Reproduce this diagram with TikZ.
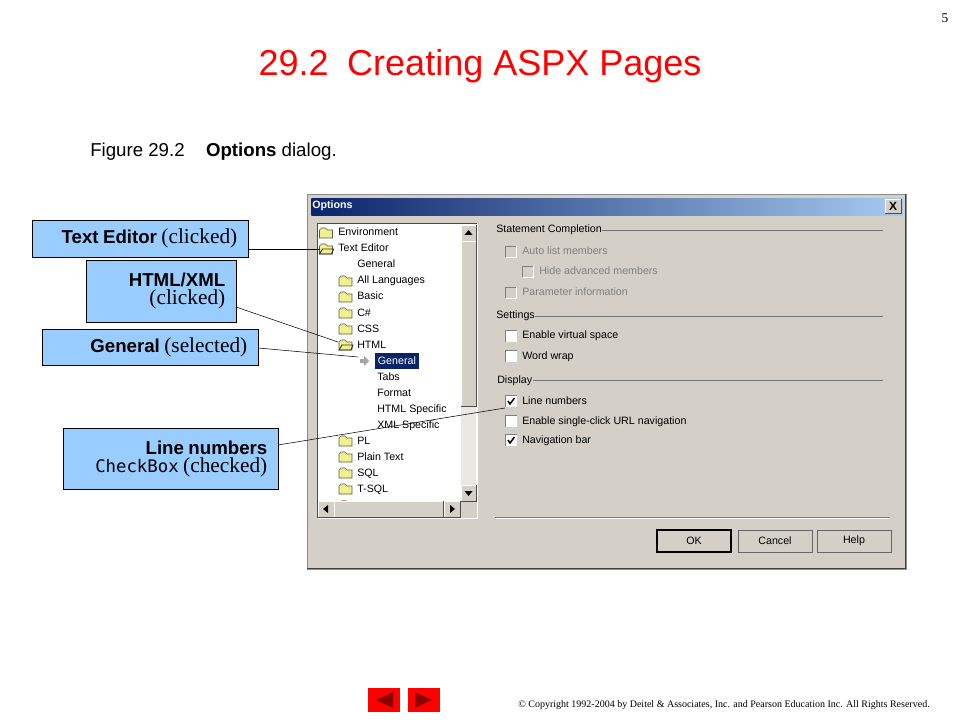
\documentclass[tikz,border=0pt]{standalone}
\usepackage{fontspec}
\setmainfont{Liberation Sans}
\newfontfamily\timesfont{Liberation Serif}
\newfontfamily\codefont{DejaVu Sans Mono}
\definecolor{slidered}{HTML}{FF0000}
\definecolor{darkred}{HTML}{8C0000}
\definecolor{calloutblue}{HTML}{99CCFF}
\definecolor{dialoggray}{HTML}{D4D0C8}
\definecolor{titlenavy}{HTML}{0A246A}
\definecolor{titlesky}{HTML}{A6CAF0}
\definecolor{hatchgray}{HTML}{EAE8E3}
\definecolor{shadegray}{HTML}{808080}
\definecolor{folderyellow}{HTML}{F2F08C}
\newcommand{\fsize}[1]{\fontsize{#1}{18}\selectfont}
\newcommand{\raisedrect}[2]{%
  \fill [dialoggray] (#1) rectangle (#2);
  \draw [white] (#1 |- #2) -- (#1) -- (#2 |- #1);
  \draw [black!70] (#1 |- #2) -- (#2) -- (#2 |- #1);
}
\tikzset{
  callout/.style = {draw, fill = calloutblue, anchor = north west, align = right,
    inner xsep = 8.25pt, inner ysep = 0pt},
  treeitem/.style = {anchor = west, inner sep = 0pt, text height = 6pt, text depth = 1.5pt,
    font = \fsize{8}},
  panelitem/.style = {treeitem},
  offitem/.style = {treeitem, text = shadegray},
  winbutton/.style = {draw = black!60, fill = dialoggray, minimum width = 55.5pt,
    minimum height = 16.5pt, inner sep = 0pt, font = \fsize{8}},
  navbutton/.style = {fill = slidered},
  groupline/.style = {black!55},
  folder/.pic = {
    \path [draw = black!65, fill = folderyellow, line width = .4pt]
      (-7,4) -- (-7,-3) -- (-5,-5) -- (-1,-5) -- (1,-3) -- (6,-3) -- (6,5) -- (-7,5) -- cycle;
  },
  openfolder/.pic = {
    \path [draw = black!65, fill = folderyellow, line width = .4pt]
      (-7,4) -- (-7,-3) -- (-5,-5) -- (-1,-5) -- (1,-3) -- (6,-3) -- (6,5) -- (-7,5) -- cycle;
    \draw [black!80, line width = .7pt] (-7,5) -- (-4,0) -- (7,0) -- (5,5) -- cycle;
  },
  onbox/.pic = {
    \path [fill = white] (-5.5,-5.5) rectangle (5.5,5.5);
    \draw [shadegray] (-5.5,5.5) -- (-5.5,-5.5) -- (5.5,-5.5);
  },
  offbox/.pic = {
    \draw [shadegray] (-5.5,5.5) -- (-5.5,-5.5) -- (5.5,-5.5);
    \draw [white] (-5.5,5.5) -- (5.5,5.5) -- (5.5,-5.5);
  },
  tickmark/.pic = {
    \draw [black, line width = 1.1pt] (-3,0) -- (-1,3) -- (3.5,-3);
  }
}
\begin{document}
\begin{tikzpicture}[x = .75pt, y = -.75pt]
    \useasboundingbox [fill = white] (0,0) rectangle (960,720);

    % slide text
    \node (pageno) at (945,18) {\timesfont\fsize{10}5};
    \node (slidetitle) at (480,66) {\fsize{27}\textcolor{slidered}{29.2\hspace{14pt}Creating ASPX Pages}};
    \node [anchor = west, inner sep = 0pt] (caption) at (90,152)
        {\fsize{14}Figure 29.2\hspace{16pt}\textbf{Options} dialog.};
    \node [anchor = east, inner sep = 0pt] (copyright) at (930,705)
        {\timesfont\fsize{7.5}© Copyright 1992-2004 by Deitel \& Associates, Inc. and Pearson Education Inc. All Rights Reserved.};

    % dialog
    \draw [fill = dialoggray, draw = black!45] (307,194) rectangle (906,569);
    \draw [black!75, line width = 1pt] (307,568.5) -- (905.5,568.5) -- (905.5,194);
    \node [anchor = north west, minimum width = 443.25pt, minimum height = 12.75pt, inner sep = 0pt,
        left color = titlenavy, right color = titlesky] (titlebar) at (311,198) {};
    \node [anchor = west, inner sep = 0pt, text = white, font = \fsize{8}\bfseries] (dialogname) at (312,206) {Options};
    \coordinate (closea) at (885,199);
    \coordinate (closeb) at (901,213);
    \raisedrect{closea}{closeb}
    \node [inner sep = 0pt, font = \fsize{9}\bfseries] (closex) at (893,206) {X};

    % tree
    \fill [white] (318,224) rectangle (477,518);
    \draw [black!70, line width = .8pt] (317.5,518) -- (317.5,223.5) -- (477,223.5);
    \draw [white, line width = .8pt] (317.5,518.5) -- (477.5,518.5) -- (477.5,223.5);
    \fill [hatchgray] (461,241) rectangle (476,501);
    \fill [dialoggray] (460,501) rectangle (477,518);
    \coordinate (upa) at (461,225);
    \coordinate (upb) at (476,241);
    \raisedrect{upa}{upb}
    \coordinate (thumba) at (461,241);
    \coordinate (thumbb) at (476,406);
    \raisedrect{thumba}{thumbb}
    \coordinate (downa) at (461,485);
    \coordinate (downb) at (476,501);
    \raisedrect{downa}{downb}
    \coordinate (lefta) at (318,501);
    \coordinate (leftb) at (334,517);
    \raisedrect{lefta}{leftb}
    \coordinate (barstarta) at (334,501);
    \coordinate (barstartb) at (443,517);
    \raisedrect{barstarta}{barstartb}
    \coordinate (righta) at (444,501);
    \coordinate (rightb) at (460,517);
    \raisedrect{righta}{rightb}
    \fill (468.5,230) -- (464.5,235) -- (472.5,235) -- cycle;
    \fill (468.5,496) -- (464.5,491) -- (472.5,491) -- cycle;
    \fill (323,509) -- (328,505) -- (328,513) -- cycle;
    \fill (455,509) -- (450,505) -- (450,513) -- cycle;

    \foreach \rowy/\rowname/\rowtext in {233/env/Environment, 249/editor/Text Editor}
        \node [treeitem] (tree\rowname) at (338,\rowy) {\rowtext};
    \foreach \rowy/\rowname/\rowtext in {265/editorgen/General, 281/langs/All Languages, 297/basic/Basic,
        313/csharp/C\#, 329/css/CSS, 345/html/HTML/XML, 441/plsql/PL/SQL, 457/plain/Plain Text,
        473/sql/SQL, 489/tsql/T-SQL}
        \node [treeitem] (tree\rowname) at (357,\rowy) {\rowtext};
    \foreach \rowy/\rowname/\rowtext in {377/tabs/Tabs, 393/format/Format, 409/htmlspec/HTML Specific,
        425/xmlspec/XML Specific}
        \node [treeitem] (tree\rowname) at (377,\rowy) {\rowtext};
    \node [treeitem, fill = titlenavy, text = white, inner xsep = 2pt, minimum height = 12pt] (treegeneral) at (375,361) {General};

    \pic at (326.5,233) {folder};
    \pic at (326.5,249) {openfolder};
    \foreach \rowy in {281,297,313,329,441,457,473,489}
        \pic at (346,\rowy) {folder};
    \pic at (346,345) {openfolder};
    \fill [folderyellow!70!black] (341,501) rectangle (347,499.5);
    \fill [shadegray!70] (360,359) -- (364,359) -- (364,356) -- (369,361) -- (364,366) -- (364,363) -- (360,363) -- cycle;

    % options panel
    \node [panelitem] (stmtgroup) at (496,230) {Statement Completion};
    \node [panelitem] (setgroup) at (496,316) {Settings};
    \node [panelitem] (dispgroup) at (497,380) {Display};
    \draw [groupline] (stmtgroup.east) -- (883,230);
    \draw [groupline] (setgroup.east) -- (883,316);
    \draw [groupline] (dispgroup.east) -- (883,380);
    \foreach \boxx/\rowy/\rowname/\rowtext in {511/252/auto/Auto list members, 528/272/hide/Hide advanced members,
        511/293/param/Parameter information}
        {\pic at (\boxx,\rowy) {offbox};
         \node [offitem] (opt\rowname) at (\boxx+11,\rowy) {\rowtext};}
    \foreach \boxx/\rowy/\rowname/\rowtext in {511/336/virtual/Enable virtual space, 511/356/wrap/Word wrap,
        511/401/lines/Line numbers, 511/421/single/Enable single-click URL navigation, 511/440/navbar/Navigation bar}
        {\pic at (\boxx,\rowy) {onbox};
         \node [panelitem] (opt\rowname) at (\boxx+11,\rowy) {\rowtext};}
    \pic at (511,401) {tickmark};
    \pic at (511,440) {tickmark};

    \draw [black!50] (495,517) -- (890,517);
    \draw [white] (495,518) -- (890,518);
    \node [winbutton, draw = black, line width = 1pt] (okbtn) at (694,541) {OK};
    \node [winbutton] (cancelbtn) at (775,541) {Cancel};
    \node [winbutton] (helpbtn) at (854,541) {Help};

    % callouts
    \node [callout, text width = 145.5pt, minimum height = 27.75pt] (editorbox) at (32,220)
        {\fsize{14}\textbf{Text Editor} {\timesfont\fsize{16}(clicked)}};
    \node [callout, text width = 96pt, minimum height = 46.5pt] (htmlbox) at (86,260)
        {\fsize{14}\textbf{HTML/XML}\\[1.5pt]{\timesfont\fsize{16}(clicked)}};
    \node [callout, text width = 145.5pt, minimum height = 27pt] (generalbox) at (42,329)
        {\fsize{14}\textbf{General} {\timesfont\fsize{16}(selected)}};
    \node [callout, text width = 144.75pt, minimum height = 45.75pt] (linesbox) at (63,428)
        {\fsize{14}\textbf{Line numbers}\\[1.5pt]{\codefont\fsize{13}CheckBox} {\timesfont\fsize{16}(checked)}};

    \coordinate (editorstart) at (248,249);
    \coordinate (editorend) at (320,249);
    \coordinate (htmlstart) at (236,307);
    \coordinate (htmlend) at (338,342);
    \coordinate (generalstart) at (258,348);
    \coordinate (generalend) at (358,357);
    \coordinate (linesstart) at (278,445);
    \coordinate (linesend) at (505,408);
    \draw (editorstart) -- (editorend);
    \draw (htmlstart) -- (htmlend);
    \draw (generalstart) -- (generalend);
    \draw (linesstart) -- (linesend);

    % nav arrows
    \node [navbutton, anchor = north west, minimum width = 24pt, minimum height = 18pt, inner sep = 0pt] (prevbtn) at (368,688) {};
    \node [navbutton, anchor = north west, minimum width = 24pt, minimum height = 18pt, inner sep = 0pt] (nextbtn) at (408,688) {};
    \fill [darkred] (376,700) -- (393,692) -- (393,708) -- cycle;
    \fill [darkred] (415,692) -- (432,700) -- (415,708) -- cycle;
\end{tikzpicture}
\end{document}
